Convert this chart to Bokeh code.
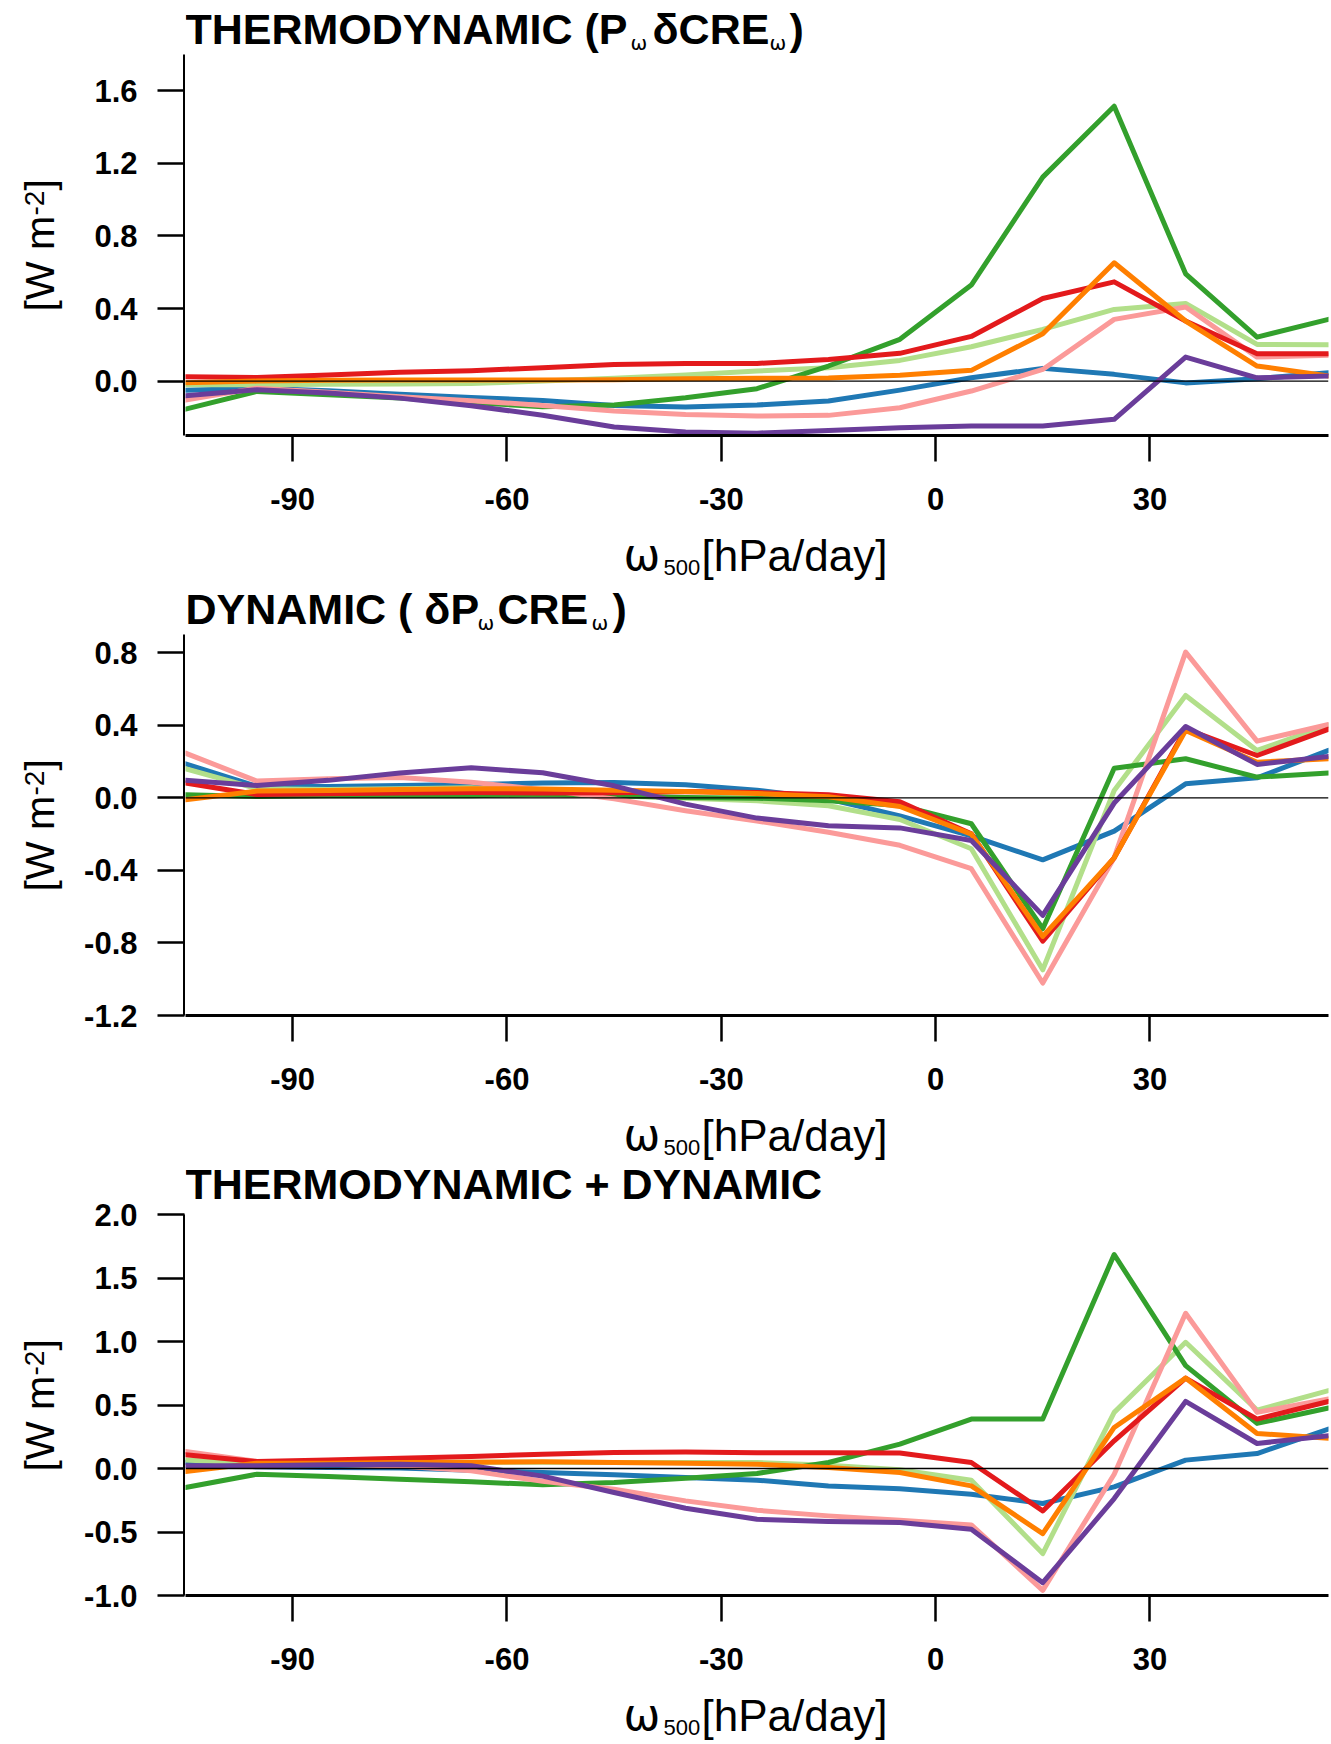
import math
from bokeh.plotting import figure
from bokeh.models import Range1d, FixedTicker, Label, Span, CustomJSTickFormatter
from bokeh.layouts import column, row
from bokeh.embed import file_html
from bokeh.resources import INLINE

# omega500 bin centres [hPa/day]
omega = [-105, -95, -85, -75, -65, -55, -45, -35, -25, -15, -5, 5, 15, 25, 35, 45, 55]
x_ticks = [-90, -60, -30, 0, 30]

colors = ["#1F78B4", "#B2DF8A", "#33A02C", "#FB9A99", "#E31A1C", "#FF7F00", "#6A3D9A"]

# Panel 1: THERMODYNAMIC
th_blue = [-0.05, -0.04, -0.053, -0.072, -0.09, -0.107, -0.135, -0.143, -0.132, -0.11, -0.05, 0.018, 0.07, 0.037, -0.01, 0.013, 0.046]
th_lgreen = [-0.02, -0.02, -0.018, -0.016, -0.013, 0.0, 0.015, 0.033, 0.055, 0.073, 0.114, 0.189, 0.285, 0.395, 0.428, 0.202, 0.2]
th_green = [-0.155, -0.057, -0.075, -0.094, -0.118, -0.142, -0.132, -0.092, -0.042, 0.083, 0.23, 0.529, 1.124, 1.515, 0.591, 0.242, 0.34]
th_pink = [-0.105, -0.039, -0.062, -0.086, -0.108, -0.134, -0.165, -0.184, -0.193, -0.189, -0.147, -0.055, 0.064, 0.34, 0.408, 0.132, 0.143]
th_red = [0.024, 0.02, 0.033, 0.048, 0.057, 0.074, 0.091, 0.097, 0.097, 0.119, 0.153, 0.246, 0.455, 0.547, 0.331, 0.151, 0.151]
th_orange = [-0.009, 0.0, 0.005, 0.006, 0.006, 0.006, 0.007, 0.013, 0.015, 0.017, 0.032, 0.059, 0.261, 0.652, 0.331, 0.083, 0.028]
th_purple = [-0.081, -0.048, -0.066, -0.094, -0.136, -0.188, -0.253, -0.281, -0.287, -0.272, -0.257, -0.248, -0.248, -0.211, 0.132, 0.018, 0.028]

# Panel 2: DYNAMIC
dy_blue = [0.187, 0.062, 0.062, 0.068, 0.073, 0.082, 0.084, 0.072, 0.042, -0.007, -0.1, -0.21, -0.342, -0.184, 0.077, 0.11, 0.261]
dy_lgreen = [0.16, 0.05, 0.045, 0.05, 0.055, 0.03, 0.011, -0.002, -0.017, -0.044, -0.12, -0.281, -0.948, 0.04, 0.564, 0.261, 0.40]
dy_green = [0.017, 0.007, 0.011, 0.011, 0.011, 0.018, 0.011, 0.002, -0.002, -0.017, -0.042, -0.143, -0.722, 0.163, 0.215, 0.114, 0.136]
dy_pink = [0.246, 0.092, 0.105, 0.112, 0.086, 0.045, -0.006, -0.071, -0.128, -0.19, -0.262, -0.391, -1.021, -0.33, 0.803, 0.312, 0.404]
dy_red = [0.081, 0.018, 0.022, 0.026, 0.029, 0.026, 0.028, 0.035, 0.029, 0.017, -0.022, -0.198, -0.79, -0.331, 0.38, 0.233, 0.378]
dy_orange = [-0.011, 0.037, 0.04, 0.046, 0.05, 0.049, 0.042, 0.035, 0.024, 0.006, -0.048, -0.2, -0.764, -0.331, 0.371, 0.196, 0.215]
dy_purple = [0.096, 0.068, 0.096, 0.136, 0.165, 0.138, 0.066, -0.035, -0.112, -0.154, -0.166, -0.235, -0.648, -0.029, 0.393, 0.184, 0.228]

# Panel 3: THERMODYNAMIC + DYNAMIC
to_blue = [0.05, 0.013, 0.008, 0.003, -0.013, -0.032, -0.05, -0.071, -0.092, -0.137, -0.16, -0.202, -0.276, -0.145, 0.066, 0.118, 0.31]
to_lgreen = [0.066, 0.039, 0.045, 0.048, 0.05, 0.05, 0.047, 0.047, 0.047, 0.026, -0.01, -0.092, -0.67, 0.442, 0.994, 0.46, 0.613]
to_green = [-0.15, -0.045, -0.063, -0.084, -0.105, -0.128, -0.11, -0.076, -0.039, 0.047, 0.192, 0.389, 0.389, 1.685, 0.81, 0.355, 0.476]
to_pink = [0.134, 0.055, 0.034, 0.02, -0.018, -0.1, -0.163, -0.255, -0.329, -0.373, -0.407, -0.444, -0.96, -0.045, 1.222, 0.442, 0.547]
to_red = [0.108, 0.055, 0.066, 0.081, 0.095, 0.113, 0.126, 0.129, 0.124, 0.124, 0.122, 0.047, -0.334, 0.218, 0.712, 0.389, 0.528]
to_orange = [-0.024, 0.042, 0.042, 0.047, 0.05, 0.053, 0.047, 0.042, 0.034, 0.008, -0.032, -0.137, -0.513, 0.323, 0.712, 0.276, 0.239]
to_purple = [0.021, 0.021, 0.029, 0.034, 0.021, -0.06, -0.189, -0.313, -0.4, -0.418, -0.426, -0.478, -0.899, -0.237, 0.528, 0.197, 0.258]

panel1_ticks = [0.0, 0.4, 0.8, 1.2, 1.6]
panel2_ticks = [-1.2, -0.8, -0.4, 0.0, 0.4, 0.8]
panel3_ticks = [-1.0, -0.5, 0.0, 0.5, 1.0, 1.5, 2.0]

FONT = "Liberation Sans"
GREEK = "DejaVu Sans"
PAGE_W = 1331
LEFT_W = 70             # strip holding the rotated y label
AX_W = 115              # figure holding the y axis (frame 1 px wide at x = 184)
RIGHT_X0 = LEFT_W + AX_W
FRAME_T, FRAME_H = 54, 381
MAIN_BOTTOM = 530       # bottom edge of the figure that holds the x axis
MID = 0.35              # baseline -> middle offset, in em


def no_align(f):
    try:
        f.frame_align = False
    except AttributeError:
        pass


def clean(f):
    f.outline_line_color = None
    f.background_fill_color = "white"
    f.border_fill_color = "white"
    f.xgrid.visible = False
    f.ygrid.visible = False
    no_align(f)


def strip(w, h):
    s = figure(width=w, height=h, x_range=Range1d(0, w), y_range=Range1d(h, 0),
               output_backend="svg", toolbar_location=None, min_border=0,
               x_axis_location=None, y_axis_location=None)
    s.min_border_left = s.min_border_right = s.min_border_top = s.min_border_bottom = 0
    clean(s)
    return s


def lab(s, text, x, y, size, bold=False, font=FONT, angle=0.0):
    # (x, y): left end of the text baseline, in strip pixels (y downward)
    if angle == 0.0:
        ay, ax = y - MID * size, x
    else:  # rotated 90 deg counter-clockwise: "up" is towards -x
        ay, ax = y, x - MID * size
    s.add_layout(Label(x=ax, y=ay, text=text, text_font=font, text_font_size=f"{size}px",
                       text_font_style="bold" if bold else "normal", text_color="black",
                       text_align="left", text_baseline="middle", angle=angle))


def style_axis(ax):
    ax.axis_line_width = 3
    ax.axis_line_color = "black"
    ax.major_tick_line_width = 2.5
    ax.major_tick_line_color = "black"
    ax.major_tick_in = 0
    ax.minor_tick_in = 0
    ax.minor_tick_out = 0
    ax.major_label_text_font = FONT
    ax.major_label_text_font_style = "bold"
    ax.major_label_text_font_size = "31px"
    ax.major_label_text_color = "black"


def make_panel(series, ylim, yticks, panel_h, title_pieces):
    yr = Range1d(*ylim)
    right_w = PAGE_W - RIGHT_X0

    # ---- y axis figure ----
    axf = figure(width=AX_W, height=panel_h, x_range=Range1d(0, 1), y_range=yr,
                 output_backend="svg", toolbar_location=None, x_axis_location=None,
                 min_border_left=AX_W - 1, min_border_right=0,
                 min_border_top=FRAME_T, min_border_bottom=panel_h - FRAME_T - FRAME_H)
    clean(axf)
    style_axis(axf.yaxis[0])
    axf.yaxis.ticker = FixedTicker(ticks=yticks)
    axf.yaxis.formatter = CustomJSTickFormatter(code="return tick.toFixed(1);")
    axf.yaxis.major_tick_out = 27
    axf.yaxis.major_label_standoff = 20

    # ---- data figure with the x axis ----
    p = figure(width=right_w, height=MAIN_BOTTOM - FRAME_T,
               x_range=Range1d(-105, 55), y_range=yr,
               output_backend="svg", toolbar_location=None, y_axis_location=None,
               min_border_left=0, min_border_right=3, min_border_top=0,
               min_border_bottom=MAIN_BOTTOM - FRAME_T - FRAME_H)
    clean(p)
    for ys, c in zip(series, colors):
        p.line(omega, ys, line_color=c, line_width=5, line_join="round", line_cap="round")
    p.add_layout(Span(location=0, dimension="width", line_color="black", line_width=1.3))
    style_axis(p.xaxis[0])
    p.xaxis.ticker = FixedTicker(ticks=x_ticks)
    p.xaxis.formatter = CustomJSTickFormatter(code="return tick.toFixed(0);")
    p.xaxis.major_tick_out = 26
    p.xaxis.major_label_standoff = 26

    # ---- title strip ----
    t = strip(right_w, FRAME_T)
    for text, cx, cy, size, bold, font in title_pieces:
        lab(t, text, max(cx - RIGHT_X0, 0), cy, size, bold=bold, font=font)

    # ---- x label strip: omega_500 [hPa/day] ----
    xl = strip(right_w, panel_h - MAIN_BOTTOM)
    lab(xl, "ω", 623 - RIGHT_X0, 569 - MAIN_BOTTOM, 44, font=GREEK)
    lab(xl, "500", 663 - RIGHT_X0, 575 - MAIN_BOTTOM, 22)
    lab(xl, "[hPa/day]", 701 - RIGHT_X0, 570 - MAIN_BOTTOM, 44)

    # ---- y label strip: [W m^-2] (rotated) ----
    yl = strip(LEFT_W, panel_h)
    rot = math.pi / 2
    lab(yl, "[W m", 54, 311, 41, angle=rot)
    lab(yl, "-2", 44, 215, 28, angle=rot)
    lab(yl, "]", 54, 190, 41, angle=rot)

    return row(yl, axf, column(t, p, xl, spacing=0), spacing=0)


title1 = [("THERMODYNAMIC (P", 184, 44, 43, True, FONT),
          ("ω", 630, 49, 20, False, GREEK),
          ("δCRE", 652, 44, 43, True, FONT),
          ("ω", 769, 49, 20, False, GREEK),
          (")", 789, 44, 43, True, FONT)]
title2 = [("DYNAMIC ( δP", 184, 44, 43, True, FONT),
          ("ω", 477, 49, 20, False, GREEK),
          ("CRE", 497, 44, 43, True, FONT),
          ("ω", 591, 49, 20, False, GREEK),
          (")", 612, 44, 43, True, FONT)]
title3 = [("THERMODYNAMIC + DYNAMIC", 184, 39, 43, True, FONT)]

panel1 = make_panel([th_blue, th_lgreen, th_green, th_pink, th_red, th_orange, th_purple],
                    (-0.3, 1.8), panel1_ticks, 580, title1)
panel2 = make_panel([dy_blue, dy_lgreen, dy_green, dy_pink, dy_red, dy_orange, dy_purple],
                    (-1.2, 0.9), panel2_ticks, 580, title2)
panel3 = make_panel([to_blue, to_lgreen, to_green, to_pink, to_red, to_orange, to_purple],
                    (-1.0, 2.0), panel3_ticks, 584, title3)

layout = column(panel1, panel2, panel3, spacing=0)
open("out.html", "w").write(file_html(layout, INLINE))
